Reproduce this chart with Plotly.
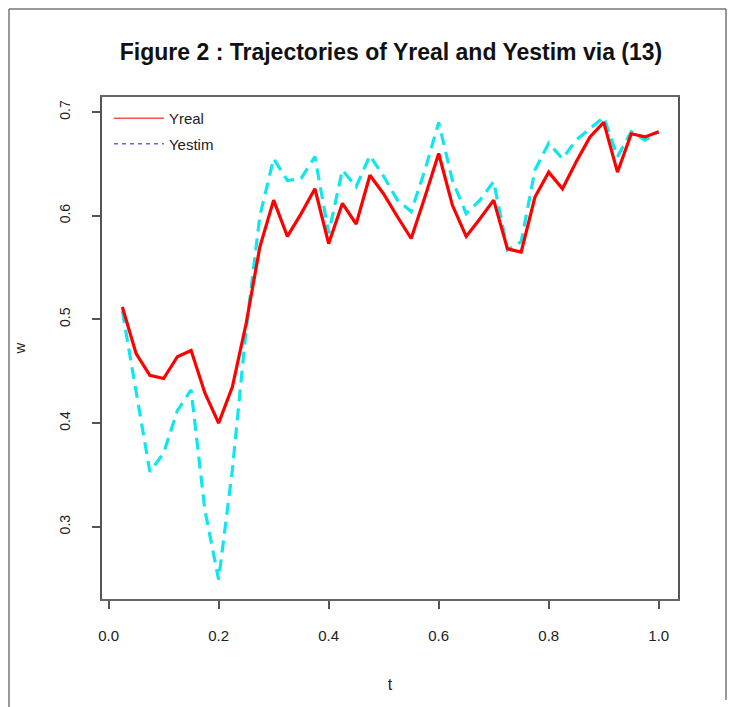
import plotly.graph_objects as go

# ---- data ----
t = [k / 40 for k in range(1, 41)]
y_real = [0.512, 0.467, 0.446, 0.443, 0.464, 0.470, 0.429, 0.400, 0.435, 0.496,
          0.570, 0.615, 0.580, 0.602, 0.626, 0.573, 0.612, 0.592, 0.639, 0.621,
          0.599, 0.578, 0.618, 0.660, 0.610, 0.580, 0.597, 0.615, 0.568, 0.565,
          0.618, 0.642, 0.626, 0.652, 0.676, 0.690, 0.642, 0.679, 0.676, 0.681]
y_estim = [0.508, 0.430, 0.353, 0.371, 0.412, 0.432, 0.316, 0.249, 0.355, 0.490,
           0.600, 0.655, 0.634, 0.636, 0.657, 0.583, 0.644, 0.628, 0.658, 0.638,
           0.615, 0.604, 0.644, 0.690, 0.634, 0.602, 0.615, 0.633, 0.567, 0.575,
           0.644, 0.670, 0.655, 0.673, 0.684, 0.695, 0.657, 0.681, 0.673, 0.681]
x_ticks = [0.0, 0.2, 0.4, 0.6, 0.8, 1.0]
x_ticklabels = ["0.0", "0.2", "0.4", "0.6", "0.8", "1.0"]
y_ticks = [0.3, 0.4, 0.5, 0.6, 0.7]
y_ticklabels = ["0.3", "0.4", "0.5", "0.6", "0.7"]

# page has an 8px body margin; figure size compensates
OFF = 8
W, H = 740 - OFF, 707 - OFF
L, R, T, B = 102 - OFF, 62, 97 - OFF, 108

fig = go.Figure()
fig.add_trace(go.Scatter(x=t, y=y_estim, mode="lines", showlegend=False,
                         line=dict(color="#10E6EE", width=3.2, dash="12px,7px")))
fig.add_trace(go.Scatter(x=t, y=y_real, mode="lines", showlegend=False,
                         line=dict(color="#FF0000", width=3.2)))
# legend entries (as in the reference: red solid, blue dashed)
fig.add_trace(go.Scatter(x=[None], y=[None], mode="lines", name="Yreal",
                         legendgroup="a",
                         line=dict(color="#FF5050", width=1.5)))
fig.add_trace(go.Scatter(x=[None], y=[None], mode="lines", name="Yestim",
                         legendgroup="b",
                         line=dict(color="#6060FF", width=1.5, dash="4px,4px")))

def px_x(p):
    return (p - OFF - L) / (W - L - R)

def px_y(p):
    return (H - B - (p - OFF)) / (H - T - B)

frame = dict(type="line", xref="paper", yref="paper", line=dict(color="#333", width=1))
fig.add_shape(**frame, x0=px_x(9), x1=px_x(9), y0=px_y(9), y1=px_y(707))
fig.add_shape(**frame, x0=px_x(9), x1=px_x(726), y0=px_y(9), y1=px_y(9))
fig.add_shape(**frame, x0=px_x(726), x1=px_x(726), y0=px_y(9), y1=px_y(700))

fig.update_layout(
    width=W, height=H,
    margin=dict(l=L, r=R, t=T, b=B, pad=0),
    paper_bgcolor="white", plot_bgcolor="white",
    font=dict(family="Liberation Sans, Arial, sans-serif", color="#222", size=14),
    title=dict(text="<b>Figure 2 : Trajectories of Yreal and Yestim via (13)</b>",
               x=(391 - OFF) / W, xanchor="center", y=1 - (52 - OFF) / H,
               yanchor="middle", font=dict(size=23, color="#111")),
    legend=dict(x=0.012, y=0.99, xanchor="left", yanchor="top",
                bgcolor="rgba(0,0,0,0)", borderwidth=0, itemwidth=50,
                font=dict(size=15, color="#222"), tracegroupgap=3),
    xaxis=dict(range=[-0.012, 1.035], tickvals=x_ticks, ticktext=x_ticklabels,
               showgrid=False, zeroline=False, showline=True, mirror=True,
               linecolor="#666", linewidth=1.5, ticks="outside", ticklen=8,
               tickcolor="#555", tickwidth=1.5, ticklabelstandoff=14,
               tickfont=dict(size=15),
               title=dict(text="t", standoff=36, font=dict(size=16))),
    yaxis=dict(range=[0.2303, 0.7145], tickvals=y_ticks, ticktext=y_ticklabels,
               showgrid=False, zeroline=False, showline=True, mirror=True,
               linecolor="#555", linewidth=1.5, ticks="outside", ticklen=8,
               tickcolor="#555", tickwidth=1.5, tickangle=-90,
               ticklabelstandoff=17, tickfont=dict(size=14),
               title=dict(text="w", standoff=27, font=dict(size=15))),
)

fig.write_html("out.html")
